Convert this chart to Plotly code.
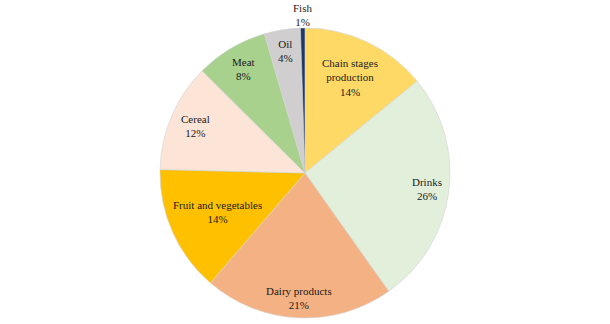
import math
import plotly.graph_objects as go

labels = ["Chain stages<br>production", "Drinks", "Dairy products", "Fruit and vegetables",
          "Cereal", "Meat", "Oil", "Fish"]
values = [14, 26, 21, 14, 12, 8, 4, 0.5]
colors = ["#FFD966", "#E2EFDA", "#F4B183", "#FFC000", "#FCE4D6", "#A9D18E", "#D0CECE", "#1F3864"]

# label distance from the centre, as a fraction of the radius (layout only)
label_radius = [0.725, 0.85, 0.865, 0.66, 0.82, 0.835, 0.85, 1.09]

W, H = 610, 324
x0, x1, y0, y1 = 160, 450, 28, 318   # pie box in pixels (top-down)
cx, cy, R = (x0 + x1) / 2, (y0 + y1) / 2, (x1 - x0) / 2

fig = go.Figure(go.Pie(
    labels=labels,
    values=values,
    sort=False,
    direction="clockwise",
    rotation=0,
    marker=dict(colors=colors, line=dict(color="#d4d4d4", width=0.6)),
    textposition="none",
    showlegend=False,
    hoverinfo="label+percent",
    domain=dict(x=[x0 / W, x1 / W], y=[(H - y1) / H, (H - y0) / H]),
))

total = sum(values)
cum = 0.0
for lab, v, rf in zip(labels, values, label_radius):
    mid = (cum + v / 2) / total * 2 * math.pi
    cum += v
    px = cx + rf * R * math.sin(mid)
    py = cy - rf * R * math.cos(mid)
    pct = round(v / total * 100)
    fig.add_annotation(
        x=px / W, y=1 - py / H, xref="paper", yref="paper",
        text=f"{lab}<br>{pct}%", showarrow=False,
        xanchor="center", yanchor="middle", align="center",
        font=dict(family="Liberation Serif, DejaVu Serif, serif", size=11, color="#1a1a1a"),
    )

fig.update_layout(
    width=W, height=H,
    margin=dict(l=0, r=0, t=0, b=0),
    paper_bgcolor="white",
)
fig.write_html("out.html")
